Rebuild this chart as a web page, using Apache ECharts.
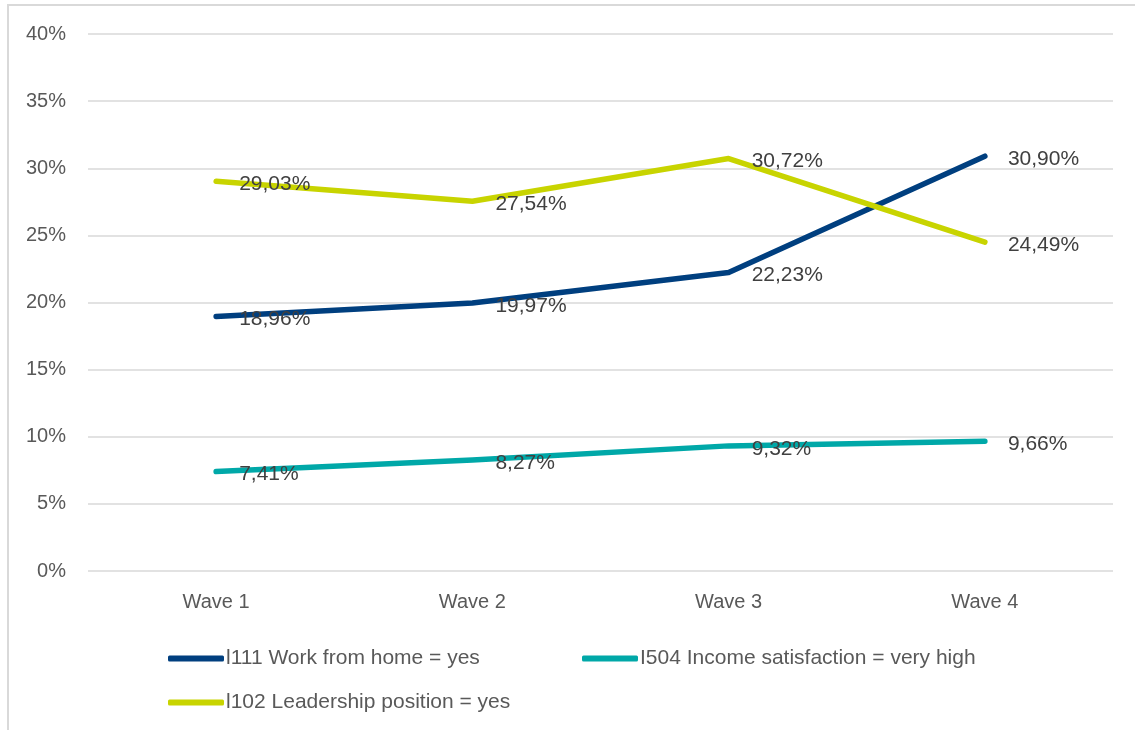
<!DOCTYPE html>
<html><head><meta charset="utf-8">
<script src="https://cdn.jsdelivr.net/npm/echarts@6/dist/echarts.min.js"></script>
<style>html,body{margin:0;padding:0;background:#fff}#c{width:1135px;height:730px}</style>
</head><body><div id="c"></div>
<script>
const categories = ['Wave 1', 'Wave 2', 'Wave 3', 'Wave 4'];
const yTicks = [0, 5, 10, 15, 20, 25, 30, 35, 40];
const workFromHome = [18.96, 19.97, 22.23, 30.90];
const incomeSatisfaction = [7.41, 8.27, 9.32, 9.66];
const leadership = [29.03, 27.54, 30.72, 24.49];
const names = ['l111 Work from home = yes', 'I504 Income satisfaction = very high', 'l102 Leadership position = yes'];
const colors = ['#003F7F', '#00A8A8', '#C8D400'];

const font = 'Liberation Sans, Arial, sans-serif';
const fmt = v => v.toFixed(2).replace('.', ',') + '%';
function mk(i, data) {
  return {
    name: names[i], type: 'line', data: data, showSymbol: true, symbol: 'circle', symbolSize: 0.1,
    lineStyle: { color: colors[i], width: 5.5, cap: 'round', join: 'round' },
    itemStyle: { color: colors[i] },
    label: { show: true, position: 'right', distance: 23, offset: [0, 3],
      formatter: p => fmt(p.value), color: '#404040', fontSize: 21, fontFamily: font },
    emphasis: { disabled: true }, animation: false
  };
}
function lg(i, left, top) {
  return { data: [names[i]], left: left, top: top, itemWidth: 56, itemHeight: 6, itemGap: 0,
    icon: 'roundRect', textStyle: { color: '#595959', fontSize: 21, fontFamily: font, padding: [0, 0, 0, -3] },
    selectedMode: false };
}
const chart = echarts.init(document.getElementById('c'));
chart.setOption({
  animation: false,
  graphic: [{ type: 'rect', shape: { x: 8, y: 5, width: 1200, height: 800 },
    style: { fill: 'none', stroke: '#d9d9d9', lineWidth: 2 }, silent: true }],
  grid: { left: 88, right: 22, top: 34, bottom: 159 },
  legend: [lg(0, 163, 643), lg(1, 577, 643), lg(2, 163, 687)],
  xAxis: { type: 'category', data: categories, boundaryGap: true,
    axisLine: { show: false }, axisTick: { show: false },
    axisLabel: { color: '#595959', fontSize: 20, fontFamily: font, margin: 21 } },
  yAxis: { type: 'value', min: 0, max: 40, interval: 5,
    axisLabel: { color: '#595959', fontSize: 20, fontFamily: font, margin: 22,
      formatter: v => yTicks.includes(v) ? v + '%' : '' },
    splitLine: { lineStyle: { color: '#d9d9d9', width: 1.5 } },
    axisLine: { show: false }, axisTick: { show: false } },
  series: [mk(0, workFromHome), mk(1, incomeSatisfaction), mk(2, leadership)]
});
</script></body></html>
